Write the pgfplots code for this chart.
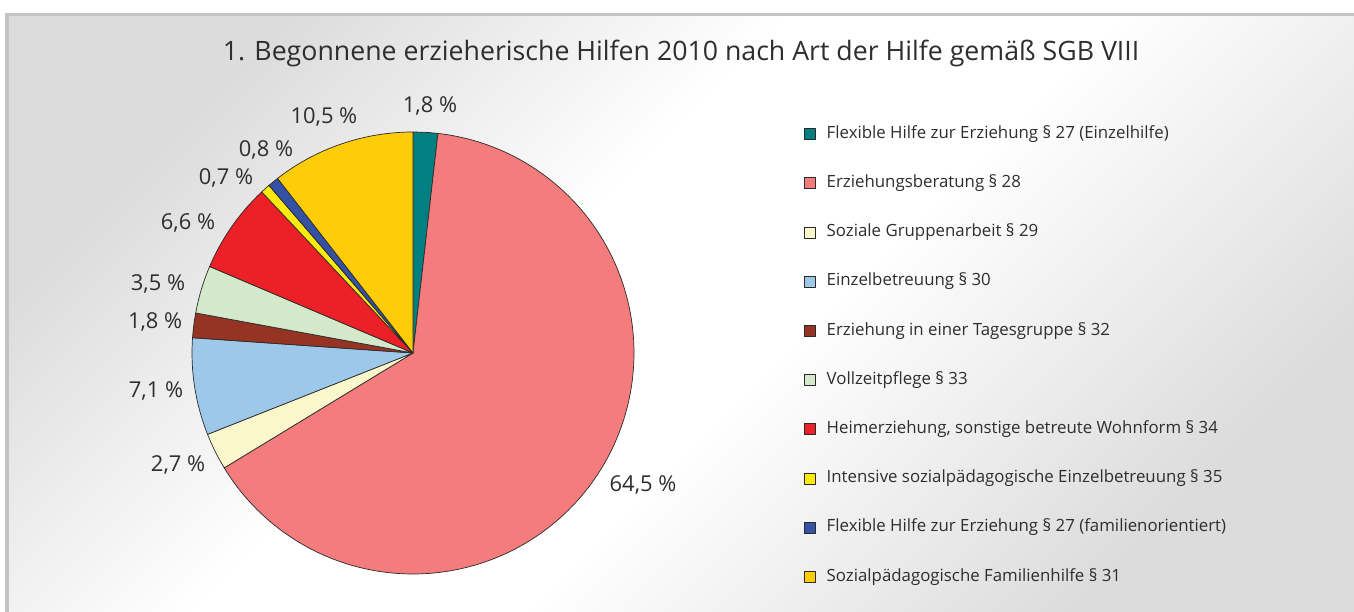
\documentclass[border=0pt]{standalone}
\usepackage{pgfplots}
\pgfplotsset{compat=1.18}
\usepackage{fontspec}
\setmainfont{Open Sans}
\definecolor{cTeal}{HTML}{008080}
\definecolor{cPink}{HTML}{F47C7C}
\definecolor{cCream}{HTML}{FBF7CC}
\definecolor{cLBlue}{HTML}{9DC8EA}
\definecolor{cBrown}{HTML}{953422}
\definecolor{cLGreen}{HTML}{D4E8CA}
\definecolor{cRed}{HTML}{EC2027}
\definecolor{cYellow}{HTML}{FBEA0E}
\definecolor{cBlue}{HTML}{3451A3}
\definecolor{cGold}{HTML}{FECC09}
\definecolor{txt}{HTML}{2E2E2E}
\definecolor{framecol}{HTML}{C4C4C4}
\definecolor{bggray}{HTML}{DCDCDC}
\definecolor{edgecol}{HTML}{2A2A2A}
\pgfdeclareverticalshading{bgsh}{100bp}{color(0bp)=(bggray); color(25bp)=(bggray); color(45bp)=(white); color(57bp)=(white); color(75bp)=(bggray); color(100bp)=(bggray)}

\def\cum{0}
\newcommand\slice[3]{%
  \pgfmathsetmacro\sA{90-3.6*\cum}%
  \pgfmathsetmacro\newcum{\cum+#2}%
  \pgfmathsetmacro\sB{90-3.6*\newcum}%
  \pgfmathtruncatemacro\ns{max(4,(\sA-\sB)/1.5)}%
  \xdef\cum{\newcum}%
  \edef\tmp{\noexpand\addplot[fill=#1, draw=edgecol, line width=0.7bp, line join=round, domain=\sB:\sA, samples=\ns] ({cos(x)},{sin(x)}) -- (axis cs:0,0) -- cycle;}%
  \tmp
  \addlegendentry{#3}%
}

\begin{document}
\begin{tikzpicture}
\useasboundingbox (0bp,0bp) rectangle (1354bp,612bp);
\fill[white] (0bp,0bp) rectangle (1354bp,612bp);
\shade[shading=bgsh, shading angle=45] (9bp,0bp) rectangle (1354bp,596bp);
\draw[framecol, line width=3.5bp] (7bp,0bp) -- (7bp,597.5bp) -- (1354bp,597.5bp);
\node[text=txt, font=\fontsize{26.8}{32}\selectfont, anchor=base] at (681bp,551bp) {1. Begonnene erzieherische Hilfen 2010 nach Art der Hilfe gemäß SGB VIII};

\begin{axis}[
  at={(192bp,38bp)}, anchor=south west,
  scale only axis, width=442bp, height=442bp,
  xmin=-1, xmax=1, ymin=-1, ymax=1,
  hide axis, clip=false,
  legend image code/.code={\draw[#1, draw=edgecol, line width=0.7bp] (0bp,-5.5bp) rectangle (11bp,5.5bp);},
  legend cell align=left,
  legend style={
    at={(1.3846,1.0512)}, anchor=north west,
    draw=none, fill=none, inner sep=0pt, outer sep=0pt,
    row sep=0pt,
    font=\fontsize{16.9}{20}\selectfont, text=txt,
    nodes={inner sep=0pt, text height=12bp, text depth=3.5bp, minimum height=49.2bp},
    /tikz/every odd column/.append style={column sep=11bp},
  },
]
\slice{cTeal}{1.8}{Flexible Hilfe zur Erziehung § 27 (Einzelhilfe)}
\slice{cPink}{64.5}{Erziehungsberatung § 28}
\slice{cCream}{2.7}{Soziale Gruppenarbeit § 29}
\slice{cLBlue}{7.1}{Einzelbetreuung § 30}
\slice{cBrown}{1.8}{Erziehung in einer Tagesgruppe § 32}
\slice{cLGreen}{3.5}{Vollzeitpflege § 33}
\slice{cRed}{6.6}{Heimerziehung, sonstige betreute Wohnform § 34}
\slice{cYellow}{0.7}{Intensive sozialpädagogische Einzelbetreuung § 35}
\slice{cBlue}{0.8}{Flexible Hilfe zur Erziehung § 27 (familienorientiert)}
\slice{cGold}{10.5}{Sozialpädagogische Familienhilfe § 31}

\begin{scope}[every node/.style={text=txt, font=\fontsize{22}{26}\selectfont}]
\node at (axis cs:0.077,1.118) {1,8 \%};
\node at (axis cs:1.041,-0.597) {64,5 \%};
\node at (axis cs:-1.063,-0.507) {2,7 \%};
\node at (axis cs:-1.163,-0.172) {7,1 \%};
\node at (axis cs:-1.167,0.140) {1,8 \%};
\node at (axis cs:-1.154,0.312) {3,5 \%};
\node at (axis cs:-1.018,0.588) {6,6 \%};
\node at (axis cs:-0.846,0.792) {0,7 \%};
\node at (axis cs:-0.665,0.919) {0,8 \%};
\node at (axis cs:-0.403,1.068) {10,5 \%};
\end{scope}
\end{axis}
\end{tikzpicture}
\end{document}
